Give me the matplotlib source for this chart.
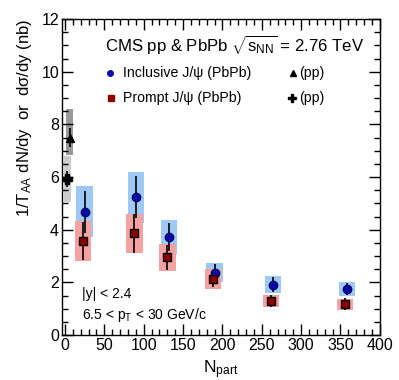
import matplotlib
matplotlib.use("Agg")
import matplotlib.pyplot as plt
from matplotlib.patches import Rectangle
from matplotlib.ticker import MultipleLocator

plt.rcParams['font.family'] = ['Liberation Sans', 'DejaVu Sans']
plt.rcParams['mathtext.fontset'] = 'custom'
plt.rcParams['mathtext.rm'] = 'Liberation Sans'
plt.rcParams['mathtext.it'] = 'Liberation Sans'

# Inclusive J/psi (PbPb)
incl_npart = [25, 90, 132, 190, 264, 358]
incl_val = [4.68, 5.23, 3.73, 2.37, 1.92, 1.75]
incl_stat = [0.80, 0.80, 0.54, 0.33, 0.29, 0.24]
incl_syst = [0.97, 0.97, 0.64, 0.35, 0.32, 0.27]

# Prompt J/psi (PbPb)
prompt_npart = [23, 88, 130, 188, 262, 356]
prompt_val = [3.57, 3.86, 2.95, 2.15, 1.29, 1.18]
prompt_stat = [0.72, 0.75, 0.48, 0.31, 0.24, 0.23]
prompt_syst = [0.76, 0.73, 0.51, 0.38, 0.23, 0.21]

# pp references
pp_incl_npart = [6]
pp_incl_val = [7.50]
pp_incl_stat = [0.35]
pp_incl_syst_lo = [6.85]
pp_incl_syst_hi = [8.60]

pp_prompt_npart = [3]
pp_prompt_val = [5.93]
pp_prompt_stat = [0.30]
pp_prompt_syst = [0.86]

fig = plt.figure(figsize=(3.99, 3.80), dpi=100)
ax = fig.add_axes([0.155, 0.118, 0.797, 0.832])
ax.set_xlim(-4, 400)
ax.set_ylim(0, 12)

bw = 21
ppw = 9
# pp boxes
for x, lo, hi in zip(pp_prompt_npart, [v - s for v, s in zip(pp_prompt_val, pp_prompt_syst)],
                     [v + s for v, s in zip(pp_prompt_val, pp_prompt_syst)]):
    ax.add_patch(Rectangle((x - ppw / 2, lo), ppw, hi - lo, facecolor='#cdcdcd', edgecolor='none', zorder=1))
for x, lo, hi in zip(pp_incl_npart, pp_incl_syst_lo, pp_incl_syst_hi):
    ax.add_patch(Rectangle((x - ppw / 2, lo), ppw, hi - lo, facecolor='#9a9a9a', edgecolor='none', zorder=1.1))

for x, v, s in zip(incl_npart, incl_val, incl_syst):
    ax.add_patch(Rectangle((x - bw / 2, v - s), bw, 2 * s, facecolor='#9ec9f5', edgecolor='none', zorder=1))
for x, v, s in zip(prompt_npart, prompt_val, prompt_syst):
    ax.add_patch(Rectangle((x - bw / 2, v - s), bw, 2 * s, facecolor='#f4a2a2', edgecolor='none', zorder=1.2))

ax.errorbar(incl_npart, incl_val, yerr=incl_stat, fmt='o', color='black', ecolor='black',
            elinewidth=1.2, capsize=0, ms=6, mfc='#0a0aa8', mec='#00006a', zorder=3)
ax.errorbar(prompt_npart, prompt_val, yerr=prompt_stat, fmt='s', color='black', ecolor='black',
            elinewidth=1.2, capsize=0, ms=6, mfc='#8b0000', mec='black', zorder=3)
ax.errorbar(pp_incl_npart, pp_incl_val, yerr=pp_incl_stat, fmt='^', color='black', ecolor='black',
            elinewidth=1.2, capsize=0, ms=6, zorder=3)
ax.errorbar(pp_prompt_npart, pp_prompt_val, yerr=pp_prompt_stat, fmt='P', color='black', ecolor='black',
            elinewidth=1.2, capsize=0, ms=7, zorder=3)

ax.xaxis.set_major_locator(MultipleLocator(50))
ax.xaxis.set_minor_locator(MultipleLocator(10))
ax.yaxis.set_major_locator(MultipleLocator(2))
ax.yaxis.set_minor_locator(MultipleLocator(0.5))
ax.tick_params(which='both', direction='in', top=True, right=True, labelsize=11.5, width=1)
ax.tick_params(which='major', length=8, pad=2)
ax.tick_params(which='minor', length=4)
for sp in ax.spines.values():
    sp.set_linewidth(1)

ax.set_xlabel(r'N$_{\mathregular{part}}$', fontsize=12.5)
ax.xaxis.set_label_coords(0.5, -0.075)
ax.set_ylabel(r'1/T$_{\mathregular{AA}}$ dN/dy  or  d$\mathregular{\sigma}$/dy (nb)', fontsize=12,
              loc='top', labelpad=5)

ax.text(0.135, 0.918, r'CMS pp & PbPb $\sqrt{\mathregular{s_{NN}}}$ = 2.76 TeV', transform=ax.transAxes,
        fontsize=12.1, va='center', ha='left')
# legend entries
ax.plot([0.153], [0.830], 'o', color='#0a0aa8', ms=4, transform=ax.transAxes)
ax.text(0.192, 0.830, 'Inclusive J/ψ (PbPb)', transform=ax.transAxes, fontsize=10.2, va='center')
ax.plot([0.727], [0.830], '^', color='black', ms=5, transform=ax.transAxes)
ax.text(0.745, 0.830, '(pp)', transform=ax.transAxes, fontsize=10.2, va='center')
ax.plot([0.156], [0.749], 's', color='#8b0000', ms=5, transform=ax.transAxes)
ax.text(0.192, 0.749, 'Prompt J/ψ (PbPb)', transform=ax.transAxes, fontsize=10.2, va='center')
ax.plot([0.724], [0.749], 'P', color='black', ms=6, transform=ax.transAxes)
ax.text(0.745, 0.749, '(pp)', transform=ax.transAxes, fontsize=10.2, va='center')

ax.text(0.063, 0.13, '|y| < 2.4', transform=ax.transAxes, fontsize=10, va='center')
ax.text(0.063, 0.063, r'6.5 < p$_{\mathregular{T}}$ < 30 GeV/c', transform=ax.transAxes, fontsize=10, va='center')

fig.savefig('out.png', dpi=100)
